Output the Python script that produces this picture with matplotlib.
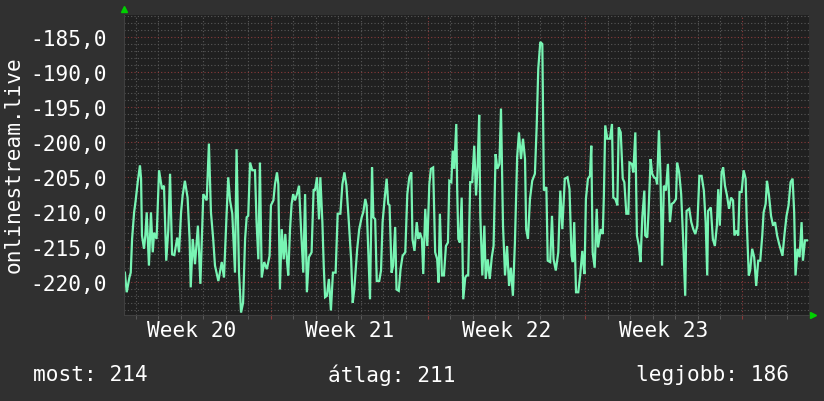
import matplotlib
matplotlib.use('Agg')
import matplotlib.pyplot as plt
from matplotlib.ticker import FixedLocator, FuncFormatter
import matplotlib.transforms as mtransforms

# days since the left edge of the graph window
days = [0.04, 0.12, 0.24, 0.30, 0.36, 0.45, 0.52, 0.61, 0.71, 0.76, 0.80, 0.89, 0.95, 1.01, 1.11, 1.20,
        1.28, 1.34, 1.45, 1.56, 1.69, 1.78, 1.88, 1.97, 2.05, 2.14, 2.24, 2.37, 2.45, 2.54, 2.61, 2.71,
        2.83, 2.92, 2.97, 3.06, 3.16, 3.29, 3.40, 3.53, 3.68, 3.78, 3.87, 3.97, 4.05, 4.20, 4.35, 4.45,
        4.57, 4.64, 4.72, 4.82, 4.94, 5.01, 5.12, 5.21, 5.30, 5.39, 5.46, 5.53, 5.61, 5.71, 5.83, 5.90,
        5.98, 6.05, 6.13, 6.24, 6.36, 6.48, 6.54, 6.65, 6.72, 6.81, 6.87, 6.94, 7.02, 7.11, 7.18, 7.26,
        7.31, 7.39, 7.46, 7.53, 7.61, 7.70, 7.79, 7.88, 7.98, 8.06, 8.14, 8.23, 8.35, 8.44, 8.50, 8.59,
        8.68, 8.74, 8.83, 8.89, 8.95, 9.03, 9.12, 9.21, 9.30, 9.42, 9.51, 9.63, 9.72, 9.81, 9.90, 9.99,
        10.11, 10.18, 10.25, 10.38, 10.47, 10.58, 10.65, 10.74, 10.80, 10.87, 10.95, 11.04, 11.10, 11.18,
        11.25, 11.36, 11.44, 11.51, 11.60, 11.69, 11.76, 11.82, 11.91, 11.98, 12.07, 12.13, 12.23, 12.31,
        12.40, 12.52, 12.61, 12.70, 12.79, 12.84, 12.93, 13.03, 13.10, 13.17, 13.26, 13.32, 13.41, 13.50,
        13.59, 13.66, 13.76, 13.85, 13.94, 14.00, 14.06, 14.15, 14.24, 14.33, 14.42, 14.48, 14.57, 14.63,
        14.70, 14.79, 14.83, 14.88, 14.95, 15.03, 15.10, 15.19, 15.25, 15.32, 15.41, 15.50, 15.59, 15.67,
        15.74, 15.81, 15.86, 15.95, 16.04, 16.10, 16.19, 16.28, 16.37, 16.45, 16.54, 16.62, 16.71, 16.78,
        16.87, 16.96, 17.05, 17.14, 17.22, 17.31, 17.40, 17.50, 17.58, 17.67, 17.76, 17.85, 17.90, 17.98,
        18.07, 18.17, 18.29, 18.37, 18.44, 18.53, 18.62, 18.69, 18.80, 18.86, 18.97, 19.05, 19.12, 19.22,
        19.33, 19.42, 19.51, 19.62, 19.74, 19.83, 19.92, 19.98, 20.04, 20.12, 20.22, 20.31, 20.40, 20.49,
        20.50, 20.56, 20.65, 20.74, 20.80, 20.86, 20.95, 21.04, 21.10, 21.22, 21.31, 21.36, 21.42, 21.51,
        21.63, 21.72, 21.78, 21.87, 21.96, 22.02, 22.11, 22.20, 22.27, 22.36, 22.45, 22.50, 22.61, 22.67,
        22.76, 22.83, 22.92, 22.99, 23.07, 23.16, 23.20, 23.29, 23.35, 23.44, 23.51, 23.59, 23.68, 23.73,
        23.81, 23.88, 23.95, 24.03, 24.12, 24.21, 24.30, 24.38, 24.47, 24.57, 24.62, 24.71, 24.80, 24.89,
        24.98, 25.04, 25.16, 25.25, 25.34, 25.43, 25.52, 25.61, 25.71, 25.81, 25.89, 25.96, 26.00, 26.12,
        26.21, 26.30, 26.39, 26.45, 26.52, 26.60, 26.67, 26.75, 26.84, 26.93, 27.02, 27.11, 27.17, 27.26,
        27.34, 27.40, 27.49, 27.58, 27.67, 27.72, 27.81, 27.87, 27.96, 28.05, 28.14, 28.23, 28.32, 28.41,
        28.47, 28.56, 28.62, 28.71, 28.80, 28.89, 28.98, 29.07, 29.16, 29.22, 29.31, 29.40, 29.49, 29.58,
        29.67, 29.76, 29.83, 29.89, 29.98, 30.07, 30.16, 30.22, 30.31, 30.40]

values = [-218.6, -221.4, -219.3, -218.6, -213.8, -210.0, -208.3, -205.7, -203.3, -205.2, -213.3, -215.2,
          -213.3, -210.0, -217.6, -210.0, -215.7, -212.9, -213.8, -204.0, -206.7, -206.2, -216.9, -212.6,
          -204.5, -216.0, -216.1, -213.6, -215.7, -210.0, -207.6, -205.5, -207.9, -213.8, -220.7, -213.8,
          -217.4, -211.9, -220.2, -207.4, -208.3, -200.2, -210.0, -213.8, -217.6, -219.8, -217.1, -219.3,
          -210.0, -205.0, -208.3, -210.2, -218.6, -201.0, -218.6, -224.3, -222.9, -213.8, -210.7, -210.5,
          -202.9, -204.0, -204.0, -211.4, -216.7, -202.9, -219.3, -217.1, -218.1, -216.2, -209.0, -208.3,
          -206.0, -204.3, -206.0, -221.0, -212.4, -216.7, -213.1, -217.1, -219.0, -212.4, -208.8, -207.4,
          -208.3, -207.4, -206.2, -212.4, -218.6, -207.4, -221.4, -216.4, -215.7, -206.7, -206.9, -205.0,
          -211.0, -205.0, -211.4, -217.6, -222.1, -221.9, -219.5, -224.0, -218.6, -218.6, -210.2, -210.2,
          -206.0, -204.3, -206.2, -210.5, -216.7, -222.9, -221.0, -215.2, -212.4, -210.7, -210.0, -208.1,
          -209.0, -215.2, -222.4, -203.6, -210.7, -211.0, -219.8, -219.8, -218.3, -211.4, -208.1, -205.2,
          -208.8, -209.0, -218.6, -217.6, -212.1, -221.0, -221.2, -218.1, -216.2, -215.7, -207.4, -205.0,
          -204.3, -213.8, -215.5, -211.4, -213.8, -212.9, -213.8, -218.8, -209.5, -214.8, -206.0, -203.8,
          -203.6, -215.7, -216.7, -220.0, -210.2, -219.0, -219.0, -214.8, -214.3, -205.5, -205.7, -201.2,
          -203.8, -197.4, -206.7, -213.8, -214.3, -207.9, -222.4, -219.3, -219.0, -219.0, -205.7, -205.7,
          -200.5, -207.6, -203.3, -196.1, -210.5, -219.0, -211.9, -219.5, -216.7, -219.5, -216.4, -214.8,
          -201.7, -203.8, -203.1, -195.2, -211.9, -219.0, -214.8, -220.5, -217.9, -221.9, -214.3, -202.1,
          -198.6, -202.4, -199.5, -202.4, -212.4, -213.8, -208.1, -205.5, -204.5, -197.6, -189.5, -185.7,
          -186.0, -206.9, -206.4, -216.9, -217.1, -210.5, -216.7, -218.3, -215.7, -206.9, -212.4, -205.2,
          -205.0, -206.7, -216.2, -217.1, -211.4, -221.4, -221.4, -218.8, -215.5, -218.8, -218.6, -208.1,
          -205.2, -204.8, -200.5, -215.7, -217.9, -209.5, -215.0, -212.4, -213.1, -207.6, -197.6, -199.5,
          -199.5, -197.4, -207.9, -208.1, -209.0, -197.9, -198.6, -205.2, -205.7, -210.2, -210.2, -202.9,
          -203.1, -204.3, -198.6, -213.3, -214.8, -217.1, -210.7, -206.9, -213.3, -213.6, -209.8, -202.4,
          -204.5, -205.0, -205.2, -206.0, -198.3, -204.8, -217.6, -206.2, -206.9, -203.1, -211.4, -208.8,
          -208.6, -208.1, -202.9, -204.3, -207.4, -214.0, -221.9, -209.8, -209.5, -211.4, -212.4, -213.1,
          -211.9, -204.8, -204.8, -206.9, -211.4, -219.0, -209.8, -209.3, -213.8, -214.8, -211.9, -206.7,
          -211.9, -204.3, -203.6, -206.2, -207.6, -209.5, -207.9, -208.3, -213.3, -212.6, -213.3, -207.1,
          -207.1, -204.0, -205.2, -211.4, -219.0, -218.3, -215.2, -216.4, -220.5, -216.9, -216.9, -213.3,
          -210.0, -208.8, -205.5, -207.6, -210.5, -211.9, -211.4, -213.3, -214.5, -215.2, -216.2, -213.1,
          -210.5, -209.0, -205.7, -205.2, -210.0, -219.0, -215.2, -216.4, -211.4, -216.9, -214.0, -214.0]

y_ticks = [-185, -190, -195, -200, -205, -210, -215, -220]
week_starts = [6.53, 13.53, 20.53, 27.53]
week_labels = ['Week 20', 'Week 21', 'Week 22', 'Week 23']
stats = ['most: 214', 'átlag: 211', 'legjobb: 186']

plt.rcParams['font.family'] = 'DejaVu Sans Mono'
FS = 15.2
W, H = 824, 402
fig = plt.figure(figsize=(W / 100, H / 100), dpi=100, facecolor='#303030')
ax = fig.add_axes([124 / W, 1 - 315.7 / H, 685 / W, 300.1 / H], facecolor='#202020')

ax.set_xlim(0, 30.49)
ax.set_ylim(-224.6, -181.8)

# grid: minor gray every day / every unit, major red at weeks / every 5
minor_x = [6.53 - k for k in range(1, 7)] + [w + k for w in week_starts for k in range(1, 7)]
minor_x = [m for m in minor_x if 0 < m < 30.49]
minor_y = [v for v in range(-224, -181) if v % 5 != 0]
ax.xaxis.set_major_locator(FixedLocator(week_starts))
ax.xaxis.set_minor_locator(FixedLocator(minor_x))
ax.yaxis.set_major_locator(FixedLocator(y_ticks))
ax.yaxis.set_minor_locator(FixedLocator(minor_y))
ax.grid(which='minor', color='#585858', linestyle=(0, (1, 2)), linewidth=0.8)
ax.grid(which='major', color='#8a3a3a', linestyle=(0, (1, 2)), linewidth=0.8)
ax.set_axisbelow(True)

ax.plot(days, values, color='#78f5b4', linewidth=1.6, solid_joinstyle='miter')

ax.yaxis.set_major_formatter(FuncFormatter(lambda v, p: ('%.1f' % v).replace('.', ',')))
ax.tick_params(axis='y', which='both', length=0, pad=12, labelsize=FS, labelcolor='white')
ax.tick_params(axis='x', which='major', length=3, color='#8a3a3a', labelbottom=False)
ax.tick_params(axis='x', which='minor', length=3, color='#606060')
for s in ['top', 'right']:
    ax.spines[s].set_visible(False)
ax.spines['left'].set_color('#404040')
ax.spines['bottom'].set_color('#404040')

trans = mtransforms.blended_transform_factory(ax.transData, fig.transFigure)
for w, lab in zip(week_starts, week_labels):
    ax.text(w - 3.5, 1 - 331 / H, lab, transform=trans, ha='center', va='center',
            color='white', fontsize=FS)

fig.text(14 / W, 1 - 165 / H, 'onlinestream.live', rotation=90, ha='center', va='center',
         color='white', fontsize=FS)

# green arrows at axis ends
ax.plot([0], [1.019], marker='^', markersize=5, color='#00d000', transform=ax.transAxes, clip_on=False)
ax.plot([1.006], [0], marker='>', markersize=5, color='#00d000', transform=ax.transAxes, clip_on=False)

for x, s in zip([33, 328, 636], stats):
    fig.text(x / W, 1 - 375 / H, s, ha='left', va='center', color='white', fontsize=FS)

fig.savefig('out.png', dpi=100, facecolor=fig.get_facecolor())
